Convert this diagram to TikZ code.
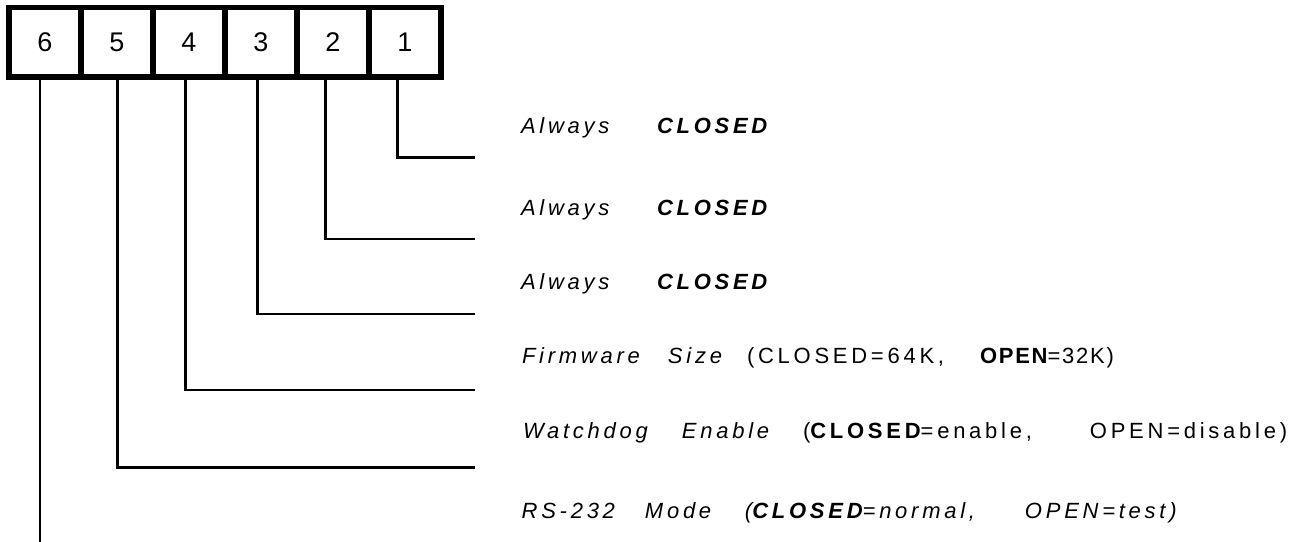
\documentclass[tikz,border=0pt]{standalone}
\usepackage{fontspec}
\setmainfont{Liberation Sans}[LetterSpace=17]
\newfontfamily\tightfont{Liberation Sans}[LetterSpace=8]
\begin{document}
\begin{tikzpicture}[x=1pt,y=-1pt,
  swbox/.style={draw, line width=5.5pt, minimum width=72pt, minimum height=69.5pt,
    inner sep=0pt, outer sep=0pt, font=\fontsize{27}{30}\selectfont},
  lbl/.style={anchor=base west, inner sep=0pt, outer sep=0pt,
    font=\fontsize{22}{26}\selectfont},
  lead/.style={line width=2.5pt, line join=miter}]
\useasboundingbox (0,0) rectangle (1289,541);
% DIP switch
\node[swbox] (b6) at (45,42.25) {6};
\node[swbox] (b5) at (117,42.25) {5};
\node[swbox] (b4) at (189,42.25) {4};
\node[swbox] (b3) at (261,42.25) {3};
\node[swbox] (b2) at (333,42.25) {2};
\node[swbox] (b1) at (405,42.25) {1};
% labels
\node[lbl] (t1) at (521,133.3) {\makebox[136pt][l]{\itshape Always}{\bfseries\itshape CLOSED}};
\node[lbl] (t2) at (521,215) {\makebox[136pt][l]{\itshape Always}{\bfseries\itshape CLOSED}};
\node[lbl] (t3) at (521,289) {\makebox[136pt][l]{\itshape Always}{\bfseries\itshape CLOSED}};
\node[lbl] (t4) at (522,363.3) {\makebox[146pt][l]{\itshape Firmware}\makebox[79pt][l]{\itshape Size}\makebox[233pt][l]{(CLOSED=64K,}{\tightfont{\bfseries OPEN}=32K)}};
\node[lbl] (t5) at (523,438) {\makebox[159pt][l]{\itshape Watchdog}\makebox[121pt][l]{\itshape Enable}\makebox[287pt][l]{({\bfseries CLOSED}=enable,}OPEN=disable)};
\node[lbl] (t6) at (521.7,518) {\itshape\makebox[123.3pt][l]{RS-232}\makebox[100pt][l]{Mode}\makebox[280pt][l]{({\bfseries CLOSED}=normal,}OPEN=test)};
% line ends
\coordinate (e1) at (475,157.5);
\coordinate (e2) at (475,239);
\coordinate (e3) at (475,314);
\coordinate (e4) at (475,390);
\coordinate (e5) at (475,467.7);
\coordinate (e6) at (40,545);
% leads
\draw[lead] ([xshift=-7.3pt]b1.south) |- (e1);
\draw[lead] ([xshift=-7.3pt]b2.south) |- (e2);
\draw[lead] ([xshift=-3.3pt]b3.south) |- (e3);
\draw[lead] ([xshift=-3.3pt]b4.south) |- (e4);
\draw[lead] ([xshift=0.7pt]b5.south) |- (e5);
\draw[lead] ([xshift=-5pt]b6.south) -- (e6);
\end{tikzpicture}
\end{document}
